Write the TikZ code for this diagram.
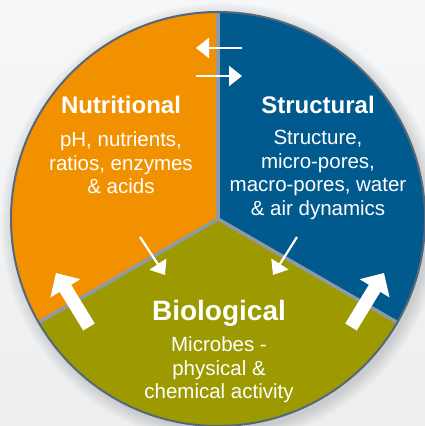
\documentclass[tikz,border=0pt]{standalone}
\usepackage{fontspec}
\setmainfont{Liberation Sans}
\usetikzlibrary{arrows.meta}
\definecolor{orng}{HTML}{F29100}
\definecolor{blu}{HTML}{005A8E}
\definecolor{olv}{HTML}{9C9A00}
\definecolor{rimc}{HTML}{55687B}
\definecolor{divc}{HTML}{8E9AA6}
\definecolor{bgtop}{HTML}{F6F7F8}
\definecolor{bgbot}{HTML}{ECEEF0}
\tikzset{
  title/.style={text=white, font=\bfseries\fontsize{24}{26}\selectfont, inner sep=0pt},
  bigtitle/.style={text=white, font=\bfseries\fontsize{28}{30}\selectfont, inner sep=0pt},
  body/.style={text=white, font=\fontsize{20.5}{23.5}\selectfont, align=center, inner sep=0pt},
  thinarrow/.style={draw=white, line width=2.2pt, -{Triangle[length=13pt,width=20pt]}},
  thickarrow/.style={draw=white, line width=13.5pt, -{Triangle[length=18pt,width=34pt]}},
  divline/.style={draw=divc, line width=3.5pt},
}
\begin{document}
\begin{tikzpicture}[x=1pt,y=1pt]
\useasboundingbox (0,0) rectangle (425,426);
\shade[top color=bgtop, bottom color=bgbot] (0,0) rectangle (425,426);
% soft shadow
\foreach \r in {208,210,212,214,216,218,220}
  \fill[black, opacity=0.02] (221,203) circle[radius=\r pt];
\coordinate (C) at (218,207);
% sectors
\fill[orng] (C) -- ++(90:207pt) arc[start angle=90, end angle=210, radius=207pt] -- cycle;
\fill[blu] (C) -- ++(-30:207pt) arc[start angle=-30, end angle=90, radius=207pt] -- cycle;
\fill[olv] (C) -- ++(210:207pt) arc[start angle=210, end angle=330, radius=207pt] -- cycle;
\draw[divline] (C) -- ++(90:206pt);
\draw[divline] (C) -- ++(210:206pt);
\draw[divline] (C) -- ++(330:206pt);
\draw[rimc, line width=2pt] (C) circle[radius=207pt];
% texts
\node[title] (nt) at (121,321) {Nutritional};
\node[body] (nb) at (121,263) {pH, nutrients,\\ratios, enzymes\\\& acids};
\node[title] (st) at (318,321) {Structural};
\node[body] (sb) at (318,251) {Structure,\\micro-pores,\\macro-pores, water\\\& air dynamics};
\node[bigtitle] (bt) at (219,113) {Biological};
\node[body] (bb) at (219,56) {Microbes -\\physical \&\\chemical activity};
% arrow end points
\coordinate (a1s) at (242,378); \coordinate (a1e) at (196,378);
\coordinate (a2s) at (196,350); \coordinate (a2e) at (242,350);
\coordinate (a3s) at (140,189); \coordinate (a3e) at (165,151);
\coordinate (a4s) at (297,189); \coordinate (a4e) at (273,151);
\coordinate (a5s) at (89,99);  \coordinate (a5e) at (56,153);
\coordinate (a6s) at (351,99); \coordinate (a6e) at (384,153);
\draw[thinarrow] (a1s) -- (a1e);
\draw[thinarrow] (a2s) -- (a2e);
\draw[thinarrow] (a3s) -- (a3e);
\draw[thinarrow] (a4s) -- (a4e);
\draw[thickarrow] (a5s) -- (a5e);
\draw[thickarrow] (a6s) -- (a6e);
\end{tikzpicture}
\end{document}
